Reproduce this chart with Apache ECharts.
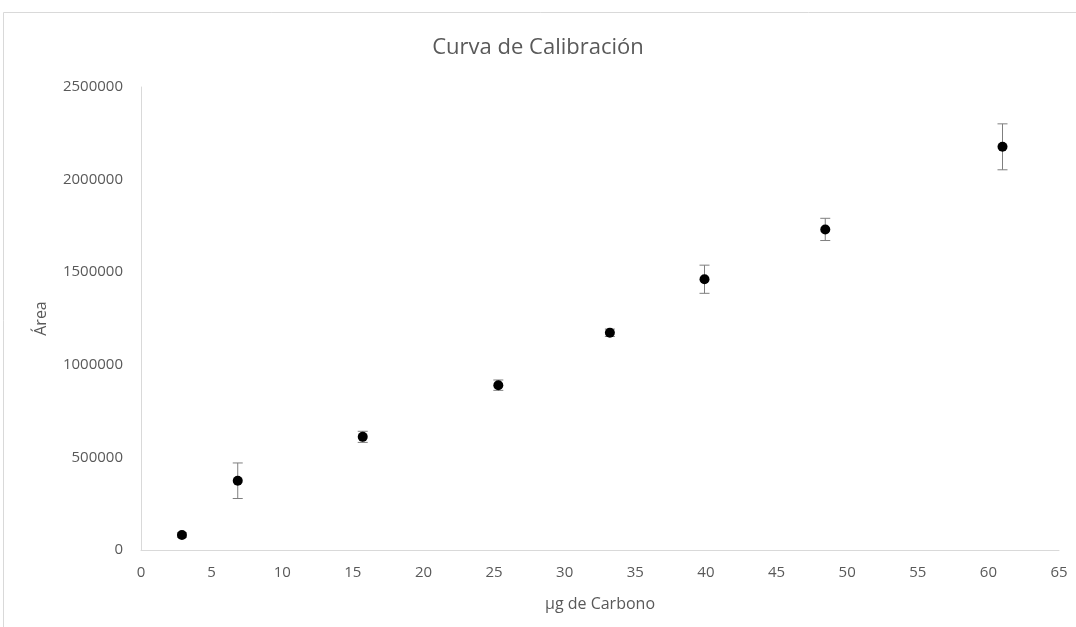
<!DOCTYPE html>
<html>
<head>
<meta charset="utf-8">
<script src="https://cdn.jsdelivr.net/npm/echarts@6/dist/echarts.min.js"></script>
<style>
html,body{margin:0;padding:0;background:#fff;}
#chart{width:1076px;height:627px;}
</style>
</head>
<body>
<div id="chart"></div>
<script>
var xValues = [2.9, 6.85, 15.7, 25.3, 33.2, 39.9, 48.45, 61.0];
var yValues = [81000, 374000, 611000, 890000, 1173000, 1462000, 1731000, 2177000];
var yErrors = [12000, 96000, 30000, 28000, 20000, 76000, 60000, 124000];
var xTicks = {min: 0, max: 65, interval: 5};
var yTicks = {min: 0, max: 2500000, interval: 500000};

var points = xValues.map(function (x, i) { return [x, yValues[i]]; });
var bars = xValues.map(function (x, i) { return [x, yValues[i] - yErrors[i], yValues[i] + yErrors[i]]; });

var font = 'Open Sans';
var chart = echarts.init(document.getElementById('chart'));
chart.setOption({
  animation: false,
  backgroundColor: '#fff',
  graphic: [{
    type: 'rect', silent: true, z: -1,
    shape: {x: 3.5, y: 12.5, width: 1200, height: 800},
    style: {fill: 'none', stroke: '#d9d9d9', lineWidth: 1}
  }],
  title: {
    text: 'Curva de Calibración', left: 'center', top: 32,
    textStyle: {fontFamily: font, fontSize: 22, fontWeight: 'normal', color: '#595959'}
  },
  grid: {left: 141, right: 17, top: 87, bottom: 77},
  xAxis: {
    type: 'value', min: xTicks.min, max: xTicks.max, interval: xTicks.interval,
    name: 'µg de Carbono', nameLocation: 'middle', nameGap: 46,
    nameTextStyle: {fontFamily: font, fontSize: 16, color: '#595959'},
    axisLine: {show: true, onZero: false, lineStyle: {color: '#d9d9d9', width: 1}},
    axisTick: {show: false},
    splitLine: {show: false},
    axisLabel: {fontFamily: font, fontSize: 15, color: '#595959', margin: 15}
  },
  yAxis: {
    type: 'value', min: yTicks.min, max: yTicks.max, interval: yTicks.interval,
    name: 'Área', nameLocation: 'middle', nameGap: 92, nameRotate: 90,
    nameTextStyle: {fontFamily: font, fontSize: 16, color: '#595959'},
    axisLine: {show: true, lineStyle: {color: '#d9d9d9', width: 1}},
    axisTick: {show: false},
    splitLine: {show: false},
    axisLabel: {fontFamily: font, fontSize: 15, color: '#595959', margin: 18,
      formatter: function (v) { return String(v); }}
  },
  series: [{
    type: 'custom',
    data: bars,
    z: 1,
    renderItem: function (params, api) {
      var x = api.value(0);
      var lo = api.coord([x, api.value(1)]);
      var hi = api.coord([x, api.value(2)]);
      var cap = 5;
      var style = {stroke: '#7f7f7f', lineWidth: 1};
      return {
        type: 'group',
        children: [
          {type: 'line', shape: {x1: lo[0], y1: lo[1], x2: hi[0], y2: hi[1]}, style: style},
          {type: 'line', shape: {x1: lo[0] - cap, y1: lo[1], x2: lo[0] + cap, y2: lo[1]}, style: style},
          {type: 'line', shape: {x1: hi[0] - cap, y1: hi[1], x2: hi[0] + cap, y2: hi[1]}, style: style}
        ]
      };
    }
  }, {
    type: 'scatter',
    data: points,
    z: 2,
    symbol: 'circle',
    symbolSize: 10,
    itemStyle: {color: '#000', opacity: 1}
  }]
});
</script>
</body>
</html>
